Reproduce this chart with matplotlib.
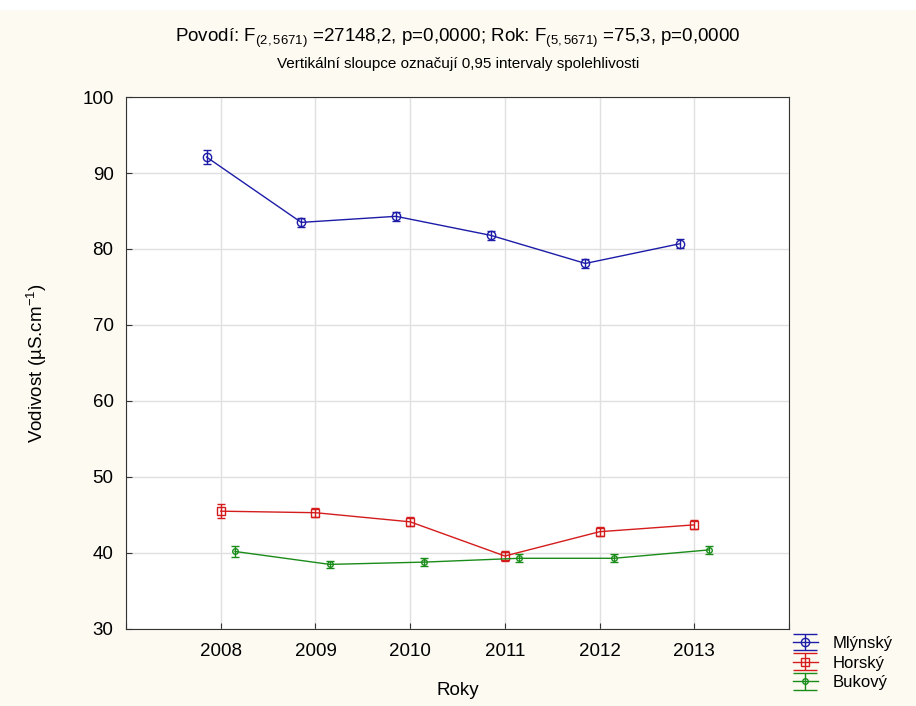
import matplotlib.pyplot as plt
from matplotlib.patches import Rectangle
import numpy as np

plt.rcParams['font.family'] = ['Liberation Sans', 'DejaVu Sans']
plt.rcParams['mathtext.fontset'] = 'custom'
plt.rcParams['mathtext.rm'] = 'Liberation Sans'
plt.rcParams['mathtext.it'] = 'Liberation Sans'
plt.rcParams['mathtext.default'] = 'regular'

years = [2008, 2009, 2010, 2011, 2012, 2013]
mlynsky = [92.1, 83.5, 84.3, 81.8, 78.1, 80.7]
mlynsky_err = [0.9, 0.6, 0.6, 0.6, 0.6, 0.6]
horsky = [45.5, 45.3, 44.1, 39.6, 42.8, 43.7]
horsky_err = [0.9, 0.6, 0.6, 0.6, 0.6, 0.6]
bukovy = [40.2, 38.5, 38.8, 39.3, 39.3, 40.4]
bukovy_err = [0.7, 0.5, 0.5, 0.5, 0.5, 0.5]
names = ['Mlýnský', 'Horský', 'Bukový']
colors = ['#1c1ca8', '#d41c1c', '#1a8c1a']
markers = ['o', 's', 'o']
msizes = [6, 6, 4]
offsets = [-0.15, 0.0, 0.15]

fig = plt.figure(figsize=(9.16, 7.06), dpi=100, facecolor='#fdfaf1')
fig.patches.append(Rectangle((0, 1 - 10 / 706), 1, 10 / 706, transform=fig.transFigure,
                             facecolor='white', edgecolor='none', zorder=0))
ax = fig.add_axes([0.1376, 0.1091, 0.7238, 0.7535])
ax.set_facecolor('white')

x = np.array(years, dtype=float)
handles = []
for vals, errs, name, c, m, ms, off in zip([mlynsky, horsky, bukovy],
                                           [mlynsky_err, horsky_err, bukovy_err],
                                           names, colors, markers, msizes, offsets):
    ax.errorbar(x + off, vals, yerr=errs, color=c, marker=m, mfc='none', ms=ms,
                lw=1, capsize=3)
    # proxy for legend with wide caps
    h = ax.errorbar([np.nan], [np.nan], yerr=[1], color=c, marker=m, mfc='none',
                    ms=ms, lw=1, capsize=8.5, label=name)
    handles.append(h)

ax.set_xlim(2007, 2014)
ax.set_ylim(30, 100)
ax.set_xticks(np.arange(2007, 2015))
ax.set_xticklabels([''] + [str(y) for y in years] + [''])
ax.set_yticks(np.arange(30, 101, 10))
ax.grid(True, color='#e0e0e0', lw=1)
ax.set_axisbelow(True)
ax.tick_params(labelsize=13.5, color='#333333', length=4, direction='in', pad=9)
ax.tick_params(axis='x', pad=10)
for s in ax.spines.values():
    s.set_color('#333333')

ax.set_xlabel('Roky', fontsize=13.5, labelpad=16)
ax.set_ylabel('Vodivost (µS.cm$^{-1}$)', fontsize=13.5, labelpad=24)

fig.text(0.5, 0.940, 'Povodí: F$_{(2, 5671)}$ =27148,2, p=0,0000; Rok: F$_{(5, 5671)}$ =75,3, p=0,0000',
         ha='center', va='baseline', fontsize=13.5)
fig.text(0.5, 0.904, 'Vertikální sloupce označují 0,95 intervaly spolehlivosti',
         ha='center', va='baseline', fontsize=11)

fig.legend(handles=handles, loc='center left', bbox_to_anchor=(0.8657, 0.0609),
           frameon=False, fontsize=12, handlelength=1.5, handletextpad=0.9,
           labelspacing=0.28, borderaxespad=0, borderpad=0)

fig.savefig('out.png', dpi=100, facecolor=fig.get_facecolor())
